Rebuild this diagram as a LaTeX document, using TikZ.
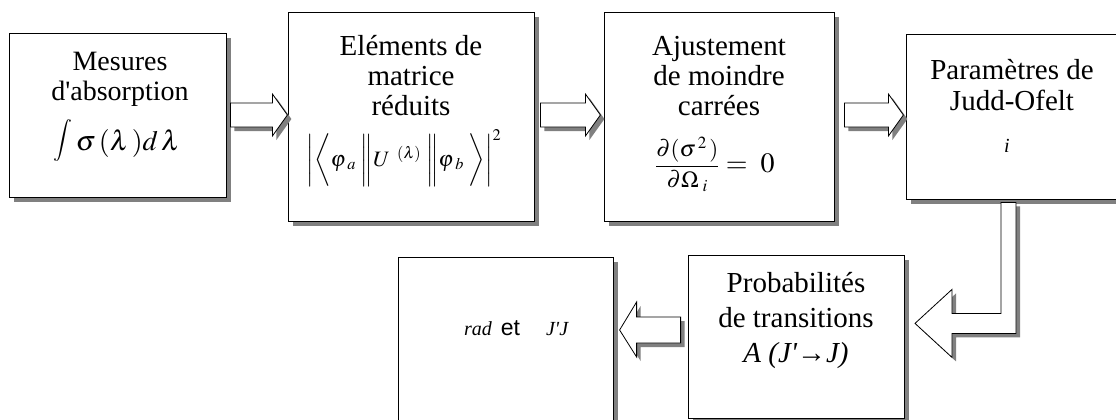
\documentclass[tikz,border=0pt]{standalone}
\usepackage{amsmath}
\usepackage{mathptmx}
\usepackage{fontspec}
\newfontfamily\tnr{Liberation Serif}
\newfontfamily\arl{Liberation Sans}
\usetikzlibrary{positioning,calc,shadows}
\tikzset{
  box/.style={draw=black,fill=white,line width=0.8pt,inner sep=0pt,
    drop shadow={shadow xshift=5pt,shadow yshift=-5pt,fill=black!50,opacity=1}},
  blockarr/.style={draw=black,fill=white,line width=0.8pt,line join=miter,
    drop shadow={shadow xshift=4pt,shadow yshift=-4pt,fill=black!50,opacity=1}},
  txt/.style={font=\tnr\fontsize{29}{30}\selectfont,align=center,inner sep=0pt,anchor=base},
  eqn/.style={font=\tnr\fontsize{28}{30}\selectfont,inner sep=0pt,anchor=base},
  smalltxt/.style={font=\tnr\fontsize{20}{22}\selectfont,inner sep=0pt,anchor=base},
}

\begin{document}
\begin{tikzpicture}[x=1pt,y=-1pt]
  \useasboundingbox (0,0) rectangle (1116,420);
  \clip (0,0) rectangle (1116,420);
  % boxes
  \node[box,minimum width=217pt,minimum height=164pt] (mes) at (117.5,115) {};
  \node[box,minimum width=246pt,minimum height=209pt] (elem) at (411,116.5) {};
  \node[box,minimum width=230pt,minimum height=209pt] (ajust) at (719,116.5) {};
  \node[box,minimum width=212pt,minimum height=165pt] (jo) at (1012,116.5) {};
  \node[box,minimum width=216pt,minimum height=163pt] (proba) at (796,336.5) {};
  \node[box,minimum width=215pt,minimum height=170pt] (res) at (505.5,342) {};
  % texts (base = last line)
  \node[txt,font=\tnr\fontsize{28}{30}\selectfont] (mesT) at (120,100) {Mesures\\d'absorption};
  \node[eqn] (mesF) at (117,150)
    {\raisebox{4pt}{\fontsize{21}{21}\selectfont$\displaystyle\int$}$\,\sigma\,(\lambda\,)d\,\lambda$};
  \node[txt] (elemT) at (411,115) {El\'ements de\\matrice\\r\'eduits};
  \node[eqn,font=\tnr\fontsize{22}{30}\selectfont] (elemF) at (404,166)
    {$\biggl|\biggl\langle\varphi_{\;a}\;\biggl\|U^{\;\;(\lambda)}\;\biggr\|\varphi_{\;b}\;\biggr\rangle\biggr|^{2}$};
  \node[txt] (ajustT) at (719,115) {Ajustement\\de moindre\\carr\'ees};
  \node[eqn] (ajustF) at (715,172)
    {{\fontsize{23}{30}\selectfont$\dfrac{\partial(\sigma^{\,2}\,)}{\partial\Omega_{\;i}}$}$\;=\ 0$};
  \node[txt] (joT) at (1012,110) {Param\`etres de\\Judd-Ofelt};
  \node[smalltxt,font=\tnr\itshape\fontsize{20}{22}\selectfont] (joI) at (1007,152) {i};
  \node[txt,font=\tnr\fontsize{29}{35}\selectfont] (probaT) at (796,362)
    {Probabilit\'es\\de transitions\\\textit{A (J'→J)}};
  \node[smalltxt] (resT) at (516.5,335)
    {\textit{rad}\hspace{9pt}{\arl\fontsize{23}{24}\selectfont et}\hspace{26pt}\textit{J'J}};
  % block arrows
  \draw[blockarr] (mes.east) ++(4,-12) -- ++(42,0) -- ++(0,-9) -- ++(15,21)
    -- ++(-15,21) -- ++(0,-9) -- ++(-42,0) -- cycle;
  \draw[blockarr] (elem.east) ++(6,-13.5) -- ++(45,0) -- ++(0,-9) -- ++(15,21)
    -- ++(-15,21) -- ++(0,-9) -- ++(-45,0) -- cycle;
  \draw[blockarr] (ajust.east) ++(10,-13.5) -- ++(44,0) -- ++(0,-9) -- ++(15,21)
    -- ++(-15,21) -- ++(0,-9) -- ++(-44,0) -- cycle;
  \draw[blockarr] (jo.south) ++(-11,3) -- ++(15,0) -- ++(0,131) -- ++(-64,0)
    -- ++(0,24) -- ++(-37,-34) -- ++(37,-34) -- ++(0,24) -- ++(49,0) -- cycle;
  \draw[blockarr] (proba.west) ++(-7,-19.5) -- ++(0,26) -- ++(-44,0) -- ++(0,14)
    -- ++(-17,-27) -- ++(17,-28) -- ++(0,15) -- cycle;
\end{tikzpicture}
\end{document}
